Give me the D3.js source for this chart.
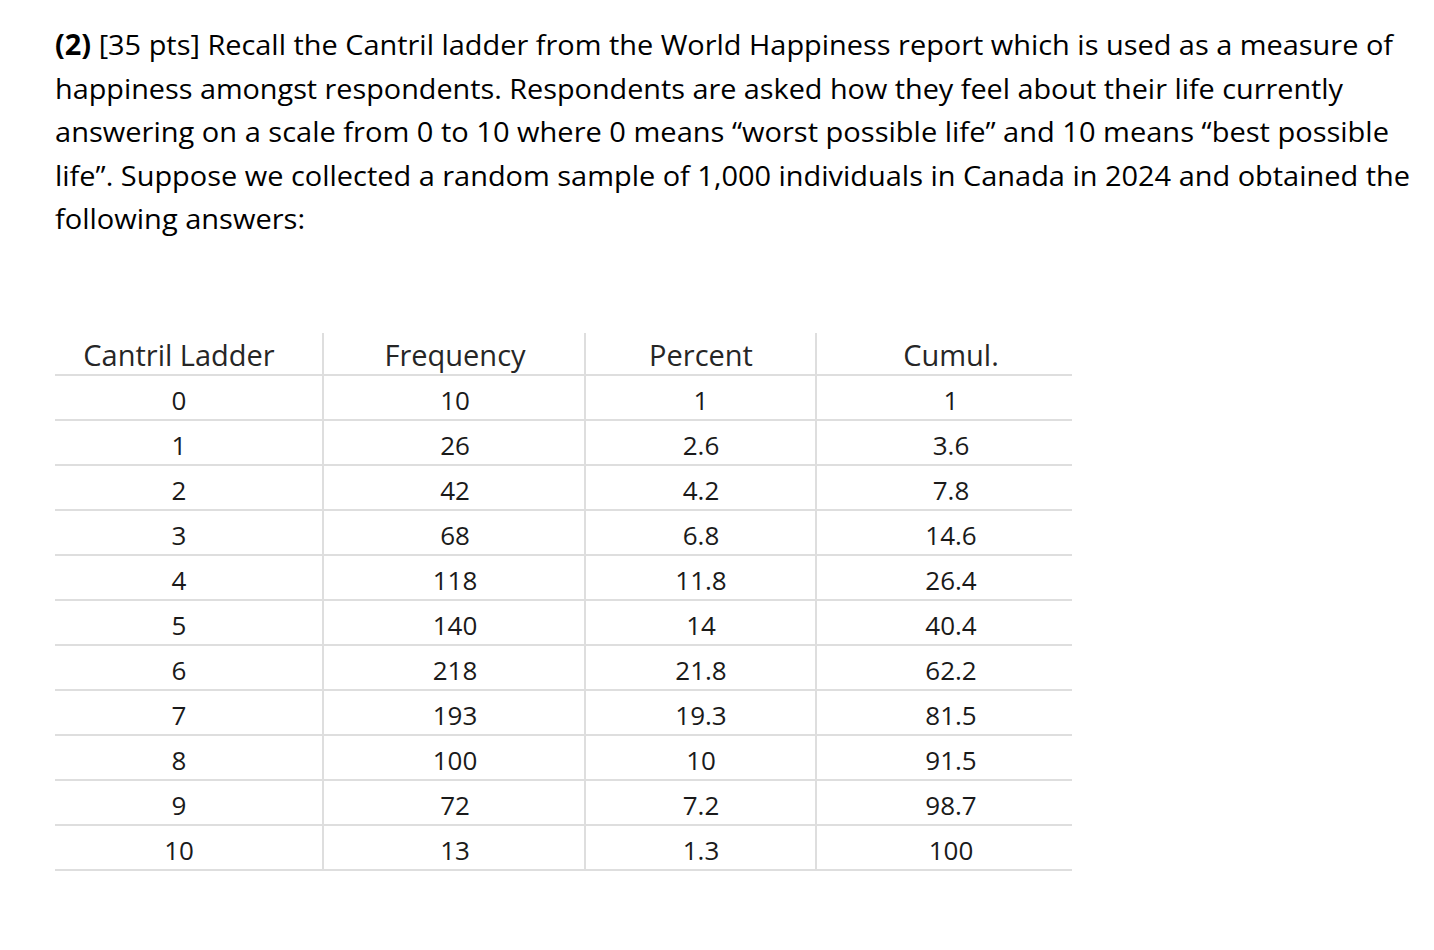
<!DOCTYPE html>
<html><head><meta charset="utf-8">
<script src="https://cdn.jsdelivr.net/npm/d3@7/dist/d3.min.js"></script>
<style>
html,body{margin:0;padding:0;background:#fff;}
svg{display:block;}
</style></head>
<body>
<svg id="c" width="1434" height="950"></svg>
<script>
// ---- data ----
const headers = ["Cantril Ladder", "Frequency", "Percent", "Cumul."];
const ladder = [0, 1, 2, 3, 4, 5, 6, 7, 8, 9, 10];
const frequency = [10, 26, 42, 68, 118, 140, 218, 193, 100, 72, 13];
const percent = [1, 2.6, 4.2, 6.8, 11.8, 14, 21.8, 19.3, 10, 7.2, 1.3];
const cumul = [1, 3.6, 7.8, 14.6, 26.4, 40.4, 62.2, 81.5, 91.5, 98.7, 100];
const paragraph = [
  {bold: "(2)", text: " [35 pts] Recall the Cantril ladder from the World Happiness report which is used as a measure of", w: 1338},
  {bold: "", text: "happiness amongst respondents. Respondents are asked how they feel about their life currently", w: 1288},
  {bold: "", text: "answering on a scale from 0 to 10 where 0 means \u201cworst possible life\u201d and 10 means \u201cbest possible", w: 1334},
  {bold: "", text: "life\u201d. Suppose we collected a random sample of 1,000 individuals in Canada in 2024 and obtained the", w: 1355},
  {bold: "", text: "following answers:", w: 250}
];

const svg = d3.select("#c");

// paragraph
const pText = svg.append("g").attr("font-family", "'Open Sans', sans-serif")
  .attr("font-size", 28).attr("fill", "#000");
paragraph.forEach((ln, i) => {
  const t = pText.append("text").attr("x", 55).attr("y", 55 + i * 43.5)
    .attr("textLength", ln.w).attr("lengthAdjust", "spacingAndGlyphs");
  if (ln.bold) t.append("tspan").attr("font-weight", "bold").text(ln.bold);
  t.append("tspan").text(ln.text);
});

// table
const rows = ladder.map((d, i) => [d, frequency[i], percent[i], cumul[i]]);
const tLeft = 55, tRight = 1072, tTop = 333;
const colCenters = [179, 455, 701, 951];
const colDividers = [323, 585, 816];

const y = d3.scaleBand().domain(d3.range(rows.length + 1)).range([330, 870]).padding(0);

const g = svg.append("g");
const lineY = d => (d <= rows.length ? y(d) : y(rows.length) + y.bandwidth());
g.selectAll("line.h").data(d3.range(1, rows.length + 2)).join("line")
  .attr("x1", tLeft).attr("x2", tRight)
  .attr("y1", lineY).attr("y2", lineY)
  .attr("stroke", "#dedede").attr("stroke-width", 2);
g.selectAll("line.v").data(colDividers).join("line")
  .attr("x1", d => d).attr("x2", d => d)
  .attr("y1", tTop).attr("y2", 871)
  .attr("stroke", "#dedede").attr("stroke-width", 2);

const tf = svg.append("g").attr("font-family", "'Open Sans', sans-serif")
  .attr("fill", "#1a1a1a").attr("text-anchor", "middle");
tf.selectAll("text.hd").data(headers).join("text")
  .attr("font-size", 29)
  .attr("x", (d, i) => colCenters[i]).attr("y", y(0) + y.bandwidth() / 2 + 13)
  .attr("fill", "#262626").text(d => d);
rows.forEach((r, ri) => {
  tf.selectAll(null).data(r).join("text")
    .attr("font-size", 26)
    .attr("x", (d, i) => colCenters[i]).attr("y", y(ri + 1) + y.bandwidth() / 2 + 12)
    .text(d => String(d));
});
</script>
</body></html>
